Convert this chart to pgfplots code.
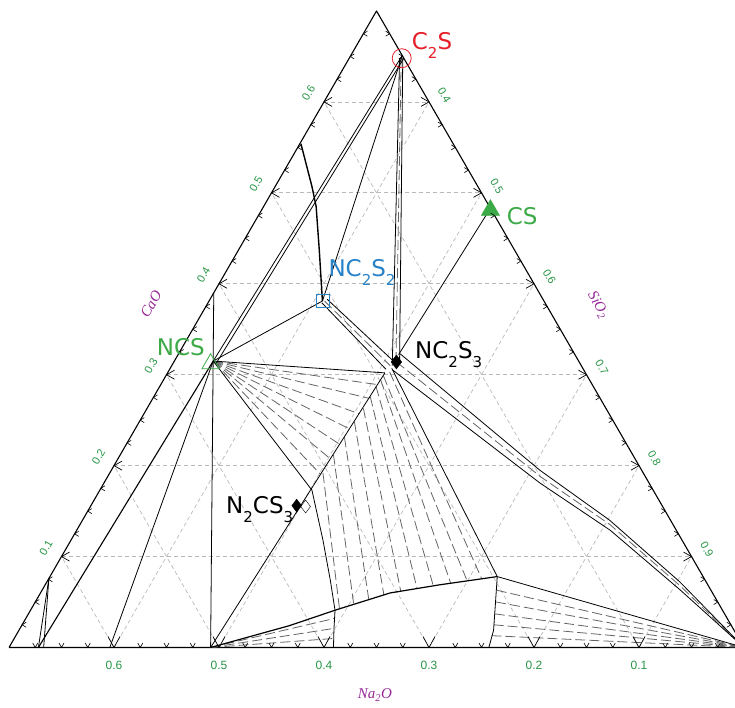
\documentclass[border=0pt]{standalone}
\usepackage{fontspec}
\setmainfont{DejaVu Sans}
\newfontfamily\tickfont{Liberation Sans}
\newfontfamily\titlefont{Liberation Serif}
\usepackage{pgfplots}
\pgfplotsset{compat=1.18}
\definecolor{cred}{RGB}{230,30,40}
\definecolor{cgreen}{RGB}{60,170,70}
\definecolor{cblue}{RGB}{40,130,200}
\definecolor{ctick}{RGB}{40,150,70}
\definecolor{ctitle}{RGB}{150,40,150}
\definecolor{cgrid}{RGB}{185,185,185}
\definecolor{ctie}{RGB}{100,100,100}
\pgfplotsset{
  /pgfplots/table/tern/.style={/pgfplots/table/header=false,/pgfplots/table/row sep=\\,
    /pgfplots/table/x expr={1-(\thisrowno{0}+0.5*\thisrowno{1})/0.7},
    /pgfplots/table/y expr={1.237179*\thisrowno{1}}},
  sol/.style={black,line width=0.8pt,mark=none},
  thk/.style={black,line width=1.4pt,mark=none},
  tie/.style={ctie,line width=0.8pt,dash pattern=on 10pt off 4pt,mark=none},
  grd/.style={cgrid,line width=0.7pt,dash pattern=on 4pt off 3pt,mark=none},
}
% segment given by (Na2O, CaO) mass fractions of both ends
\newcommand\seg[5][sol]{\addplot[#1] table[tern]{#2 #3\\#4 #5\\};}
\newcommand\sub[1]{\raisebox{-9pt}{\fontsize{15}{15}\selectfont #1}}
\begin{document}
\begin{tikzpicture}
\begin{axis}[x=735pt,y=735pt,anchor=origin,at={(0pt,0pt)},
  xmin=-0.01224,xmax=0.98776,ymin=-0.08231,ymax=0.88095,hide axis,clip=false]
% grid: CaO const
\seg[grd]{0.6}{0.1}{0}{0.1}
\seg[grd]{0.5}{0.2}{0}{0.2}
\seg[grd]{0.4}{0.3}{0}{0.3}
\seg[grd]{0.3}{0.4}{0}{0.4}
\seg[grd]{0.2}{0.5}{0}{0.5}
\seg[grd]{0.1}{0.6}{0}{0.6}
% grid: Na2O const
\seg[grd]{0.1}{0}{0.1}{0.6}
\seg[grd]{0.2}{0}{0.2}{0.5}
\seg[grd]{0.3}{0}{0.3}{0.4}
\seg[grd]{0.4}{0}{0.4}{0.3}
\seg[grd]{0.5}{0}{0.5}{0.2}
\seg[grd]{0.6}{0}{0.6}{0.1}
% grid: SiO2 const
\seg[grd]{0.1}{0}{0}{0.1}
\seg[grd]{0.2}{0}{0}{0.2}
\seg[grd]{0.3}{0}{0}{0.3}
\seg[grd]{0.4}{0}{0}{0.4}
\seg[grd]{0.5}{0}{0}{0.5}
\seg[grd]{0.6}{0}{0}{0.6}
% frame
\addplot[black,line width=1.1pt,mark=none,line join=round] table[tern]{0.7 0\\0 0\\0 0.7\\0.7 0\\};
% tie lines
\seg[tie]{0.348}{0.315}{0.204}{0.289}
\seg[tie]{0.348}{0.315}{0.220}{0.274}
\seg[tie]{0.348}{0.315}{0.238}{0.257}
\seg[tie]{0.348}{0.315}{0.255}{0.240}
\seg[tie]{0.348}{0.315}{0.273}{0.223}
\seg[tie]{0.348}{0.315}{0.290}{0.207}
\seg[tie]{0.348}{0.315}{0.308}{0.190}
\seg[tie]{0.305}{0.192}{0.364}{0.0425}
\seg[tie]{0.285}{0.212}{0.348}{0.0474}
\seg[tie]{0.265}{0.231}{0.331}{0.0527}
\seg[tie]{0.247}{0.248}{0.314}{0.058}
\seg[tie]{0.231}{0.263}{0.296}{0.0618}
\seg[tie]{0.218}{0.276}{0.279}{0.0648}
\seg[tie]{0.207}{0.287}{0.262}{0.0678}
\seg[tie]{0.199}{0.294}{0.244}{0.0707}
\seg[tie]{0.194}{0.299}{0.227}{0.0735}
\seg[tie]{0.186}{0.303}{0.212}{0.0758}
\seg[tie]{0.204}{0.063}{0}{0}
\seg[tie]{0.211}{0.050}{0}{0}
\seg[tie]{0.219}{0.037}{0}{0}
\seg[tie]{0.226}{0.025}{0}{0}
\seg[tie]{0.234}{0.013}{0}{0}
\seg[tie]{0.508}{0}{0.374}{0.032}
\seg[tie]{0.508}{0}{0.380}{0.021}
\seg[tie]{0.508}{0}{0.385}{0.010}
\seg[tie]{0.0025}{0.648}{0.175}{0.313}
\seg[tie]{0.209}{0.381}{0.182}{0.310}
\addplot[tie] table[tern]{0.174 0.314\\0.100 0.188\\0.060 0.135\\0.027 0.068\\0 0\\};
% boundary lines
\seg{0}{0.651}{0.348}{0.315}
\seg{0}{0.648}{0.347}{0.312}
\seg{0}{0.651}{0.211}{0.381}
\addplot[thk] table[tern]{0.145 0.554\\0.158 0.507\\0.165 0.485\\0.186 0.437\\0.207 0.390\\0.211 0.381\\};
\seg{0.004}{0.648}{0.180}{0.310}
\seg{0.001}{0.648}{0.170}{0.316}
\seg{0.211}{0.381}{0.348}{0.315}
\seg{0.2125}{0.379}{0.188}{0.306}
\seg{0.2055}{0.383}{0.176}{0.314}
\seg{0.348}{0.315}{0.191}{0.302}
\seg{0.348}{0.315}{0.325}{0.173}
\seg{0.191}{0.302}{0.508}{0}
\addplot[sol] table[tern]{0.325 0.173\\0.342 0.118\\0.357 0.074\\0.369 0.041\\0.380 0.021\\0.391 0\\};
\seg{0.182}{0.307}{0.196}{0.078}
\addplot[thk,line width=1.2pt] table[tern]{0.508 0\\0.421 0.024\\0.369 0.041\\0.307 0.060\\0.255 0.069\\0.196 0.078\\};
\seg{0.196}{0.078}{0}{0}
\addplot[sol] table[tern]{0.196 0.078\\0.229 0.019\\0.243 0\\};
\seg{0.168}{0.322}{0}{0.483}
\addplot[sol] table[tern]{0.166 0.323\\0.097 0.195\\0.058 0.140\\0.025 0.072\\0 0\\};
\addplot[sol] table[tern]{0.182 0.305\\0.104 0.181\\0.063 0.129\\0.029 0.063\\0 0\\};
\seg{0.310}{0.390}{0.508}{0}
\seg[thk,line width=1.1pt]{0.348}{0.315}{0.672}{0}
\seg{0.348}{0.315}{0.604}{0}
\seg{0.624}{0.076}{0.672}{0}
\seg{0.624}{0.076}{0.667}{0}
% compounds
\addplot[only marks,mark=o,mark size=9.5pt,cred,line width=0.8pt] table[tern]{0.002 0.648\\};
\addplot[only marks,mark=triangle*,mark size=10.5pt,cgreen] table[tern]{0.001 0.481\\};
\addplot[only marks,mark=square,mark size=6.5pt,cblue,line width=0.8pt] table[tern]{0.211 0.381\\};
\addplot[only marks,mark=triangle,mark size=10pt,cgreen,line width=0.8pt] table[tern]{0.352 0.312\\};
\addplot[only marks,mark=diamond*,mark size=7pt,black] table[tern]{0.174 0.314\\};
\addplot[only marks,mark=diamond*,mark size=6.5pt,black,mark options={fill=white}] table[tern]{0.340 0.155\\};
\addplot[only marks,mark=diamond*,mark size=6.5pt,black] table[tern]{0.348 0.156\\};
\end{axis}
\begin{scope}[shift={(-9pt,647.5pt)},x=1pt,y=-1pt]
\foreach \i in {1,...,27}{
  \pgfmathtruncatemacro\maj{(mod(\i,4)==0)}
  \pgfmathsetmacro\bx{744-26.25*\i}
  \pgfmathsetmacro\ey{647.5-22.7325*\i}
  \pgfmathsetmacro\lx{9+13.125*\i}
  \pgfmathsetmacro\rx{744-13.125*\i}
  \ifnum\maj=1
    \draw[black,line width=0.7pt] ({\bx-6},636.5) -- (\bx,647.5) -- ({\bx+6},636.5);
    \draw[black,line width=0.7pt] ({\lx+8},{\ey-4.5}) -- (\lx,\ey) -- ({\lx+8},{\ey+4.5});
    \draw[black,line width=0.7pt] ({\rx-8},{\ey-4.5}) -- (\rx,\ey) -- ({\rx-8},{\ey+4.5});
  \else
    \draw[black,line width=0.6pt] ({\bx-2.5},643) -- (\bx,647.5) -- ({\bx+2.5},643);
    \draw[black,line width=0.6pt] ({\lx+4},{\ey-2.5}) -- (\lx,\ey) -- ({\lx+4},{\ey+2.5});
    \draw[black,line width=0.6pt] ({\rx-4},{\ey-2.5}) -- (\rx,\ey) -- ({\rx-4},{\ey+2.5});
  \fi
}
\tikzset{tl/.style={text=ctick,inner sep=0pt,font=\tickfont\fontsize{11}{13}\selectfont}}
\foreach \k in {0.1,0.2,0.3,0.4,0.5,0.6}
  \node[tl,font=\tickfont\fontsize{12}{14}\selectfont] at ({744-1050*\k},665) {\k};
\foreach \c in {0.1,0.2,0.3,0.4,0.5,0.6}
  \node[tl,rotate=60] at ({9+525*\c-15.5},{647.5-909.3*\c-9}) {\c};
\foreach \c/\s in {0.6/0.4,0.5/0.5,0.4/0.6,0.3/0.7,0.2/0.8,0.1/0.9}
  \node[tl,rotate=-60] at ({744-525*\c+15.5},{647.5-909.3*\c-7}) {\s};
\tikzset{tt/.style={text=ctitle,inner sep=0pt,font=\titlefont\itshape\fontsize{15}{17}\selectfont}}
\node[tt,rotate=60] at (151,304) {CaO};
\node[tt,rotate=-60] at (598,305) {SiO\textsubscript{2}};
\node[tt] at (375,695) {Na\textsubscript{2}O};
\tikzset{cl/.style={anchor=base west,inner sep=0pt,font=\fontsize{23}{27}\selectfont}}
\node[cl,text=cred] at (411.7,49.3) {C\sub{2}S};
\node[cl,text=cgreen] at (506.7,224.4) {CS};
\node[cl,text=cblue] at (328.3,276.7) {NC\sub{2}S\sub{2}};
\node[cl,text=cgreen] at (156.7,356) {NCS};
\node[cl,text=black] at (415,358.3) {NC\sub{2}S\sub{3}};
\node[cl,text=black] at (226,513.3) {N\sub{2}CS\sub{3}};
\end{scope}
\pgfresetboundingbox
\useasboundingbox (-9pt,-60.5pt) rectangle (726pt,647.5pt);
\end{tikzpicture}
\end{document}
